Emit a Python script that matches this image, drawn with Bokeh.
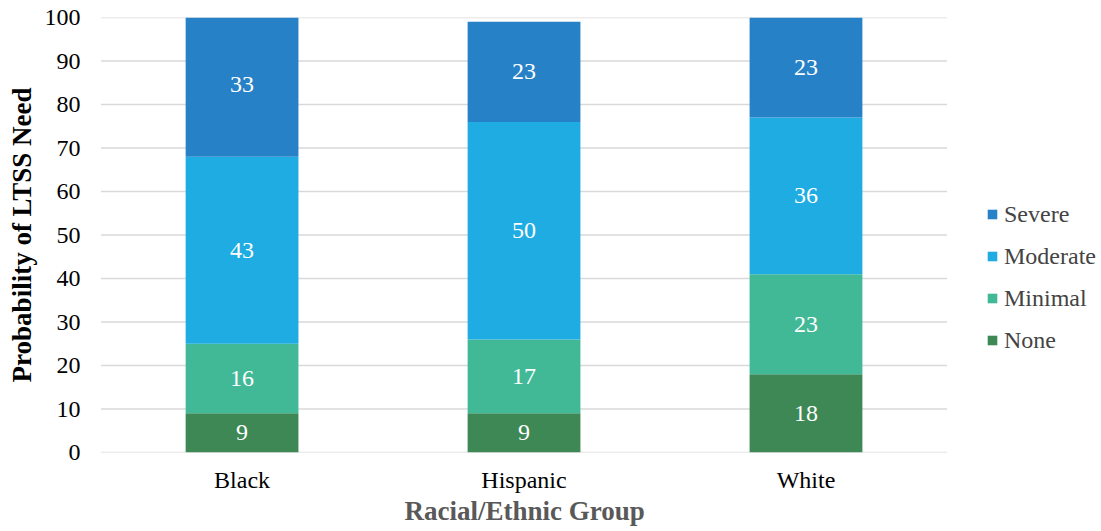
from bokeh.plotting import figure
from bokeh.models import ColumnDataSource, LabelSet, Legend, LegendItem, Range1d, FixedTicker, Title
from bokeh.embed import file_html
from bokeh.resources import INLINE

groups = ["Black", "Hispanic", "White"]
levels = ["None", "Minimal", "Moderate", "Severe"]
none_vals = [9, 9, 18]
minimal_vals = [16, 17, 23]
moderate_vals = [43, 50, 36]
severe_vals = [33, 23, 23]
colors = ["#3D8855", "#42B996", "#1FACE3", "#2781C6"]
y_ticks = [0, 10, 20, 30, 40, 50, 60, 70, 80, 90, 100]

FONT = "Liberation Serif"

xpos = [i + 0.5 for i in range(len(groups))]
data = {"x": xpos, "None": none_vals, "Minimal": minimal_vals,
        "Moderate": moderate_vals, "Severe": severe_vals}
src = ColumnDataSource(data)

p = figure(width=1101, height=531, x_range=Range1d(-0.002, 3.548), y_range=Range1d(0, 100),
           output_backend="svg", toolbar_location=None,
           min_border_left=100, min_border_right=0, min_border_top=17, min_border_bottom=79)
p.outline_line_color = None
p.background_fill_color = "white"
p.xgrid.grid_line_color = None
p.ygrid.grid_line_color = None

# gridlines spanning only the category area
p.segment(x0=[0] * len(y_ticks), x1=[len(groups)] * len(y_ticks), y0=y_ticks, y1=y_ticks,
          line_color="#D9D9D9", line_width=1.5)

renderers = p.vbar_stack(levels, x="x", width=0.4, color=colors, source=src,
                         line_color=None)

# labels
xs, ys, ts = [], [], []
series = [none_vals, minimal_vals, moderate_vals, severe_vals]
for i, g in enumerate(groups):
    base = 0
    for s in series:
        v = s[i]
        xs.append(xpos[i])
        ys.append(base + v / 2)
        ts.append(str(v))
        base += v
lsrc = ColumnDataSource(dict(x=xs, y=ys, t=ts))
labels = LabelSet(x="x", y="y", text="t", source=lsrc, text_color="white",
                  text_font=FONT, text_font_size="24px", text_align="center",
                  text_baseline="middle")
p.add_layout(labels)

p.yaxis.ticker = FixedTicker(ticks=y_ticks)
p.xaxis.ticker = FixedTicker(ticks=xpos)
p.xaxis.major_label_overrides = {x: g for x, g in zip(xpos, groups)}

for ax in (p.xaxis[0], p.yaxis[0]):
    ax.axis_line_color = None
    ax.major_tick_line_color = None
    ax.minor_tick_line_color = None
    ax.major_label_text_font = FONT
    ax.major_label_text_font_size = "24px"
    ax.major_label_text_color = "black"
    ax.axis_label_text_font = FONT
    ax.axis_label_text_font_style = "bold"
    ax.axis_label_text_font_size = "27px"

p.yaxis.axis_label = "Probability of LTSS Need"
p.yaxis.axis_label_text_color = "black"
p.yaxis.major_label_standoff = 14
p.yaxis.axis_label_standoff = 5
p.xaxis.major_label_standoff = 8

# x-axis title, centred under the category area (not under the legend area)
xtitle = Title(text="Racial/Ethnic Group", align="left", offset=304,
               vertical_align="top", standoff=0,
               text_font=FONT, text_font_style="bold", text_font_size="27px",
               text_color="#595959")
p.add_layout(xtitle, "below")

items = [LegendItem(label=lv, renderers=[r]) for lv, r in zip(levels, renderers)]
items = items[::-1]
legend = Legend(items=items, location=(886, 98), orientation="vertical",
                label_text_font=FONT, label_text_font_size="24px",
                glyph_width=12, glyph_height=12, label_height=28, spacing=14,
                label_standoff=6, padding=0, margin=0,
                border_line_color=None, background_fill_alpha=0)
p.add_layout(legend, "center")

open("out.html", "w").write(file_html(p, INLINE))
